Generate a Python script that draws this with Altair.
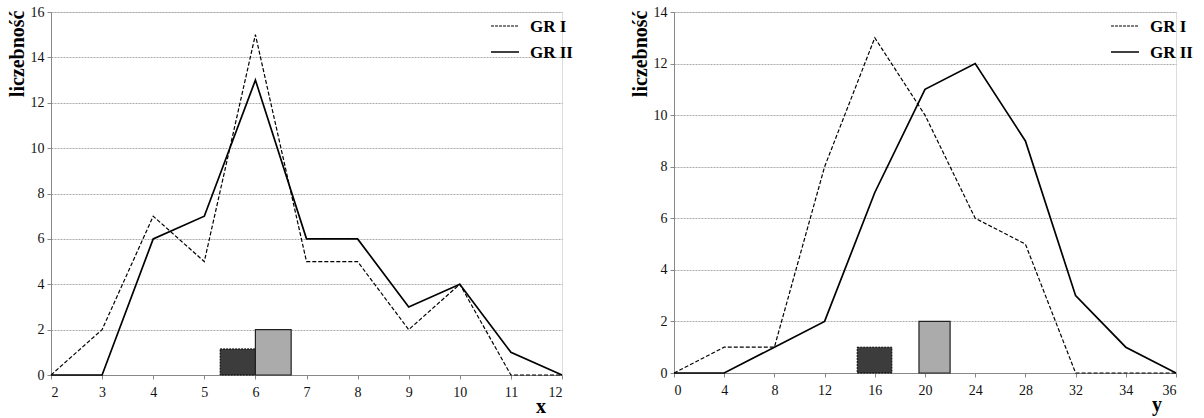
import altair as alt
import pandas as pd

# Left panel: distribution of x
x_values = [2, 3, 4, 5, 6, 7, 8, 9, 10, 11, 12]
gr1_x = [0, 2, 7, 5, 15, 5, 5, 2, 4, 0, 0]
gr2_x = [0, 0, 6, 7, 13, 6, 6, 3, 4, 1, 0]

# Right panel: distribution of y (category axis, equally spaced)
y_labels = ["0", "4", "8", "12", "16", "20", "24", "28", "32", "34", "36"]
gr1_y = [0, 1, 1, 8, 13, 10, 6, 5, 0, 0, 0]
gr2_y = [0, 0, 1, 2, 7, 11, 12, 9, 3, 1, 0]

# Small bars near the bottom: (group, start, end, height)
bar_group = ["GR I", "GR II"]
bars_x_start = [5.31, 6.0]
bars_x_end = [6.0, 6.7]
bars_x_height = [1.15, 2]
bars_y_start = [3.65, 4.88]
bars_y_end = [4.34, 5.5]
bars_y_height = [1, 2]

SERIF = "Liberation Serif"


def long_table(xs, a, b):
    rows = []
    for i, x in enumerate(xs):
        rows.append({"x": x, "n": a[i], "g": "GR I"})
        rows.append({"x": x, "n": b[i], "g": "GR II"})
    return pd.DataFrame(rows)


def panel(df, bars, x_domain, y_max, x_axis, x_title, w, h,
          leg_rule_x, leg_text_x):
    base = alt.Chart(df)
    y_enc = alt.Y("n:Q", scale=alt.Scale(domain=[0, y_max], nice=False),
                  axis=alt.Axis(values=list(range(0, y_max + 1, 2)),
                                title="liczebność", titleAngle=-90,
                                titleAlign="right",
                                titleBaseline="alphabetic",
                                titleX=-28, titleY=-2))
    x_enc = alt.X("x:Q", scale=alt.Scale(domain=x_domain, nice=False,
                                         zero=False), axis=x_axis)
    gr1 = base.transform_filter(alt.datum.g == "GR I").mark_line(
        color="black", strokeWidth=1.2, strokeDash=[4, 2]
    ).encode(x=x_enc, y=y_enc)
    gr2 = base.transform_filter(alt.datum.g == "GR II").mark_line(
        color="black", strokeWidth=1.7
    ).encode(x=x_enc, y=y_enc)

    bar_df = pd.DataFrame(bars)
    dark = alt.Chart(bar_df).transform_filter(alt.datum.g == "GR I").mark_rect(
        fill="#3c3c3c", stroke="black", strokeWidth=1, strokeDash=[2, 1]
    ).encode(x="a:Q", x2="b:Q", y=alt.Y("h:Q"), y2=alt.datum(0))
    light = alt.Chart(bar_df).transform_filter(alt.datum.g == "GR II").mark_rect(
        fill="#ababab", stroke="#222", strokeWidth=1.2
    ).encode(x="a:Q", x2="b:Q", y=alt.Y("h:Q"), y2=alt.datum(0))

    one = pd.DataFrame({"k": [0]})
    xt = alt.Chart(one).mark_text(
        font=SERIF, fontSize=20, fontWeight="bold", align="center",
        baseline="middle", color="black"
    ).encode(x=alt.value(x_title[1]), y=alt.value(h + 32),
             text=alt.value(x_title[0]))
    leg1 = alt.Chart(one).mark_rule(
        color="black", strokeWidth=1, strokeDash=[3, 1]
    ).encode(x=alt.value(leg_rule_x), x2=alt.value(leg_rule_x + 28),
             y=alt.value(14))
    leg2 = alt.Chart(one).mark_rule(color="black", strokeWidth=1.5).encode(
        x=alt.value(leg_rule_x), x2=alt.value(leg_rule_x + 28),
        y=alt.value(40))
    lt1 = alt.Chart(one).mark_text(
        font=SERIF, fontSize=17, fontWeight="bold", align="left",
        baseline="middle", color="black"
    ).encode(x=alt.value(leg_text_x), y=alt.value(15), text=alt.value("GR I"))
    lt2 = alt.Chart(one).mark_text(
        font=SERIF, fontSize=17, fontWeight="bold", align="left",
        baseline="middle", color="black"
    ).encode(x=alt.value(leg_text_x), y=alt.value(41), text=alt.value("GR II"))

    return alt.layer(gr1, gr2, dark, light, xt, leg1, leg2, lt1, lt2).properties(
        width=w, height=h)


left = panel(
    long_table(x_values, gr1_x, gr2_x),
    {"g": bar_group, "a": bars_x_start, "b": bars_x_end, "h": bars_x_height},
    [2, 12], 16,
    alt.Axis(values=x_values, format="d", title=None, grid=False),
    ("x", 490), 511, 363, 440, 479,
)

label_expr = "[" + ",".join("'%s'" % s for s in y_labels) + "][datum.value]"
right = panel(
    long_table(list(range(len(y_labels))), gr1_y, gr2_y),
    {"g": bar_group, "a": bars_y_start, "b": bars_y_end, "h": bars_y_height},
    [0, 10], 14,
    alt.Axis(values=list(range(len(y_labels))), labelExpr=label_expr,
             title=None, grid=False),
    ("y", 483), 502, 361, 437, 476,
)

chart = alt.hconcat(left, right, spacing=112, bounds="flush").properties(
    padding={"left": 51, "top": 12, "right": 1153, "bottom": 406},
    autosize=alt.AutoSizeParams(type="none"),
).configure_view(stroke=None).configure(
    background="white"
).configure_axis(
    labelFont=SERIF, labelFontSize=14, labelColor="#111", labelPadding=3,
    tickSize=4, tickColor="#888", domainColor="#888", gridColor="#aaa",
    gridDash=[2, 1], titleFont=SERIF, titleFontSize=20,
    titleFontWeight="bold", titleColor="black",
).configure_axisX(labelPadding=6)

chart.save("out.html", embed_options={"renderer": "svg", "actions": False})
